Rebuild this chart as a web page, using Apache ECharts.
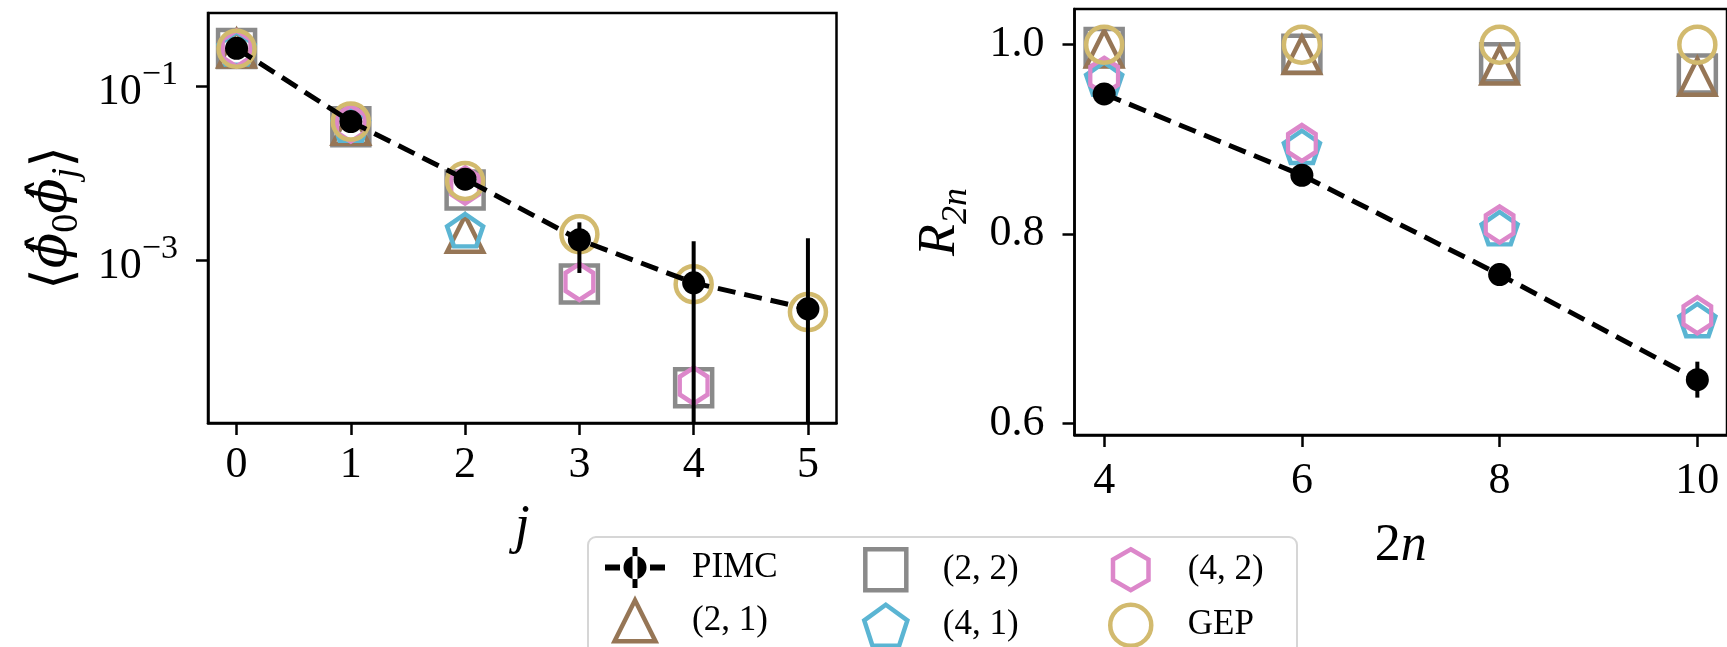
<!DOCTYPE html>
<html>
<head>
<meta charset="utf-8">
<script src="https://cdn.jsdelivr.net/npm/echarts@6/dist/echarts.min.js"></script>
<style>
html,body{margin:0;padding:0;background:#fff;}
#chart{width:1727px;height:647px;}
</style>
</head>
<body>
<div id="chart"></div>
<script>
// ---------- data ----------
const jVals = [0, 1, 2, 3, 4, 5];
const pimcCorr = [0.271, 0.039, 0.0085, 0.00171, 0.000547, 0.000275];
const pimcCorrErr = [0.002, 0.0004, 0.0002, 0.0010, 0.0011, 0.0015];
const gepCorr = [0.268, 0.039, 0.0081, 0.00198, 0.000527, 0.000252];
const m22Corr = [0.27, 0.034, 0.0064, 0.00053, 0.000034];
const m42Corr = [0.27, 0.037, 0.0072, 0.00056, 0.000036];
const m21Corr = [0.27, 0.035, 0.0020];
const m41Corr = [0.27, 0.036, 0.0022];

const nVals = [4, 6, 8, 10];
const pimcR = [0.948, 0.862, 0.757, 0.646];
const pimcRErr = [0.003, 0.004, 0.012, 0.019];
const gepR = [1.0, 1.0, 1.0, 1.0];
const m22R = [0.997, 0.990, 0.981, 0.969];
const m21R = [0.996, 0.989, 0.978, 0.966];
const m41R = [0.964, 0.892, 0.806, 0.709];
const m42R = [0.967, 0.896, 0.810, 0.714];

const leftXTicks = [0, 1, 2, 3, 4, 5];
const leftYTicks = [0.1, 0.001];
const rightXTicks = [4, 6, 8, 10];
const rightYTicks = [0.6, 0.8, 1.0];

// ---------- styles ----------
const FONT = 'Liberation Serif';
const C = {
  m21: '#967656',
  m22: '#8a8a8a',
  m41: '#5bb5d3',
  m42: '#dc87ca',
  gep: '#d2ba6e'
};
const SQR = 'path://M-100,-100H100V100H-100Z';
const TRI = 'path://M0,-100L100,100L-100,100Z';
const PENT = 'path://M0,-100L95.1,-30.9L58.8,80.9L-58.8,80.9L-95.1,-30.9Z';
const HEX = 'path://M0,-100L86.6,-50L86.6,50L0,100L-86.6,50L-86.6,-50Z';
const PIMC_ICON = 'path://M0,17.5h15v6h-15z M45,17.5h15v6h-15z M27.5,0h5v41h-5z M30,9a11.5,11.5 0 1,0 0.01,0z';

const zip = (xs, ys) => ys.map((y, i) => [xs[i], y]);
const zip3 = (xs, ys, es) => ys.map((y, i) => [xs[i], y, es[i]]);

function errRender(params, api) {
  const x = api.value(0), y = api.value(1), e = api.value(2);
  const cs = params.coordSys;
  const hi = api.coord([x, y + e]);
  const lo = y - e;
  const bottom = cs.y + cs.height;
  let y1 = hi[1];
  if (!isFinite(y1)) return null;
  y1 = Math.max(y1, cs.y);
  let y2 = bottom;
  if (lo > 0) {
    const b = api.coord([x, lo]);
    if (isFinite(b[1])) y2 = Math.min(b[1], bottom);
  }
  return {
    type: 'line',
    shape: { x1: hi[0], y1: y1, x2: hi[0], y2: y2 },
    style: { stroke: '#000', lineWidth: 4 }
  };
}

function hollow(name, data, symbol, size, color, xi, z) {
  return {
    name: name, type: 'scatter', xAxisIndex: xi, yAxisIndex: xi,
    data: data, symbol: symbol, symbolSize: size, symbolKeepAspect: true,
    itemStyle: { color: 'rgba(255,255,255,0)', borderColor: color, borderWidth: 4.5, opacity: 1 },
    emphasis: { disabled: true }, z: z, silent: true
  };
}

const axisLineStyle = { show: true, onZero: false, lineStyle: { color: '#000', width: 2.5 } };
const tickStyle = (vals) => ({ show: true, customValues: vals, length: 12, lineStyle: { color: '#000', width: 2.5 } });
const labelBase = { color: '#000', fontFamily: FONT, fontSize: 44 };

const logFmt = v => {
  const ex = Math.round(Math.log10(v));
  return '{b|10}{s|\u2212' + Math.abs(ex) + '}';
};

const legendText = { fontFamily: FONT, fontSize: 35, color: '#000', padding: [0, 0, 0, 22] };
function legendItem(name, icon, color) {
  if (name === 'PIMC') return { name: name, icon: icon, itemStyle: { color: '#000', borderWidth: 0 } };
  return { name: name, icon: icon, itemStyle: { color: 'rgba(255,255,255,0)', borderColor: color, borderWidth: 4.5 } };
}
function legendCol(left, items) {
  return { orient: 'vertical', left: left, top: 547, height: 200, itemWidth: 60, itemHeight: 41, itemGap: 10,
    padding: 0, symbolKeepAspect: true, textStyle: legendText, selectedMode: false, data: items };
}

const option = {
  backgroundColor: '#fff',
  animation: false,
  graphic: [{
    type: 'rect', left: 587, top: 536, z: 0,
    shape: { width: 709, height: 130, r: 8 },
    style: { fill: '#fff', stroke: '#d6d6d6', lineWidth: 2 }
  }],
  legend: [
    legendCol(605, [legendItem('PIMC', PIMC_ICON), legendItem('(2, 1)', TRI, C.m21)]),
    legendCol(862, [legendItem('(2, 2)', SQR, C.m22), legendItem('(4, 1)', PENT, C.m41)]),
    legendCol(1108, [legendItem('(4, 2)', HEX, C.m42), legendItem('GEP', 'circle', C.gep)])
  ],
  grid: [
    { left: 208, top: 13, width: 628.5, height: 410, show: true, borderColor: '#000', borderWidth: 2.5, containLabel: false },
    { left: 1074.5, top: 9, width: 656, height: 426, show: true, borderColor: '#000', borderWidth: 2.5, containLabel: false }
  ],
  xAxis: [
    { type: 'value', gridIndex: 0, min: -0.25, max: 5.25,
      axisLine: axisLineStyle, axisTick: tickStyle(leftXTicks), splitLine: { show: false },
      axisLabel: Object.assign({ customValues: leftXTicks, margin: 20 }, labelBase),
      name: 'j', nameLocation: 'middle', nameGap: 78,
      nameTextStyle: { fontFamily: FONT, fontSize: 54, fontStyle: 'italic', color: '#000' } },
    { type: 'value', gridIndex: 1, min: 3.7, max: 10.3,
      axisLine: axisLineStyle, axisTick: tickStyle(rightXTicks), splitLine: { show: false },
      axisLabel: Object.assign({ customValues: rightXTicks, margin: 24 }, labelBase),
      name: '{a|2}{b|n}', nameLocation: 'middle', nameGap: 85,
      nameTextStyle: { color: '#000', rich: {
        a: { fontFamily: FONT, fontSize: 52, color: '#000' },
        b: { fontFamily: FONT, fontSize: 52, fontStyle: 'italic', color: '#000' } } } }
  ],
  yAxis: [
    { type: 'log', logBase: 10, gridIndex: 0, min: 1.34e-5, max: 0.69,
      axisLine: axisLineStyle, axisTick: tickStyle(leftYTicks), splitLine: { show: false }, minorTick: { show: false },
      axisLabel: Object.assign({ customValues: leftYTicks, margin: 30, formatter: logFmt,
        rich: {
          b: { fontFamily: FONT, fontSize: 44, color: '#000', verticalAlign: 'bottom' },
          s: { fontFamily: FONT, fontSize: 34, color: '#000', verticalAlign: 'bottom', padding: [0, 0, 22, 0] }
        } }, labelBase),
      name: '{t|\u27E8}{i|\u03D5\u0302}{s|0}{i|\u03D5\u0302}{j|j}{t|\u27E9}', nameLocation: 'middle', nameGap: 122, nameRotate: 90,
      nameTextStyle: { color: '#000', rich: {
        t: { fontFamily: 'DejaVu Serif', fontSize: 56, color: '#000', verticalAlign: 'bottom', padding: [0, 0, 2, 0] },
        i: { fontFamily: 'DejaVu Serif', fontSize: 52, fontStyle: 'italic', color: '#000', verticalAlign: 'bottom', padding: [0, 0, 8, 0] },
        s: { fontFamily: FONT, fontSize: 38, color: '#000', verticalAlign: 'bottom' },
        j: { fontFamily: FONT, fontSize: 38, fontStyle: 'italic', color: '#000', verticalAlign: 'bottom' } } } },
    { type: 'value', gridIndex: 1, min: 0.5875, max: 1.0377,
      axisLine: axisLineStyle, axisTick: tickStyle(rightYTicks), splitLine: { show: false },
      axisLabel: Object.assign({ customValues: rightYTicks, margin: 30, formatter: v => v.toFixed(1) }, labelBase),
      name: '{i|R}{s|2n}', nameLocation: 'middle', nameGap: 100, nameRotate: 90,
      nameTextStyle: { color: '#000', rich: {
        i: { fontFamily: FONT, fontSize: 52, fontStyle: 'italic', color: '#000', verticalAlign: 'bottom', padding: [0, 0, 8, 0] },
        s: { fontFamily: FONT, fontSize: 36, fontStyle: 'italic', color: '#000', verticalAlign: 'bottom' } } } }
  ],
  series: [
    // left panel
    hollow('(2, 2)', zip(jVals, m22Corr), SQR, 37, C.m22, 0, 2),
    hollow('(2, 1)', zip(jVals, m21Corr), TRI, 36, C.m21, 0, 3),
    hollow('(4, 1)', zip(jVals, m41Corr), PENT, [36, 34], C.m41, 0, 4),
    hollow('(4, 2)', zip(jVals, m42Corr), HEX, [32, 36], C.m42, 0, 5),
    hollow('GEP', zip(jVals, gepCorr), 'circle', 36, C.gep, 0, 6),
    { name: 'PIMC', type: 'custom', xAxisIndex: 0, yAxisIndex: 0, renderItem: errRender,
      dimensions: ['x', 'y', 'err'], data: zip3(jVals, pimcCorr, pimcCorrErr), encode: { x: 0, y: 1 }, z: 8, silent: true },
    { name: 'PIMC', type: 'line', xAxisIndex: 0, yAxisIndex: 0, data: zip(jVals, pimcCorr),
      symbol: 'circle', symbolSize: 23, showSymbol: true, itemStyle: { color: '#000' },
      lineStyle: { color: '#000', width: 5, type: [18, 9] }, z: 9, silent: true, emphasis: { disabled: true } },
    // right panel
    hollow('(2, 2)', zip(nVals, m22R), SQR, 37, C.m22, 1, 2),
    hollow('(2, 1)', zip(nVals, m21R), TRI, 36, C.m21, 1, 3),
    hollow('(4, 1)', zip(nVals, m41R), PENT, [36, 34], C.m41, 1, 4),
    hollow('(4, 2)', zip(nVals, m42R), HEX, [32, 36], C.m42, 1, 5),
    hollow('GEP', zip(nVals, gepR), 'circle', 36, C.gep, 1, 6),
    { name: 'PIMC', type: 'custom', xAxisIndex: 1, yAxisIndex: 1, renderItem: errRender,
      dimensions: ['x', 'y', 'err'], data: zip3(nVals, pimcR, pimcRErr), encode: { x: 0, y: 1 }, z: 8, silent: true },
    { name: 'PIMC', type: 'line', xAxisIndex: 1, yAxisIndex: 1, data: zip(nVals, pimcR),
      symbol: 'circle', symbolSize: 23, showSymbol: true, itemStyle: { color: '#000' },
      lineStyle: { color: '#000', width: 5, type: [18, 9] }, z: 9, silent: true, emphasis: { disabled: true } }
  ]
};

const chart = echarts.init(document.getElementById('chart'), null, { renderer: 'canvas' });
chart.setOption(option);
</script>
</body>
</html>
